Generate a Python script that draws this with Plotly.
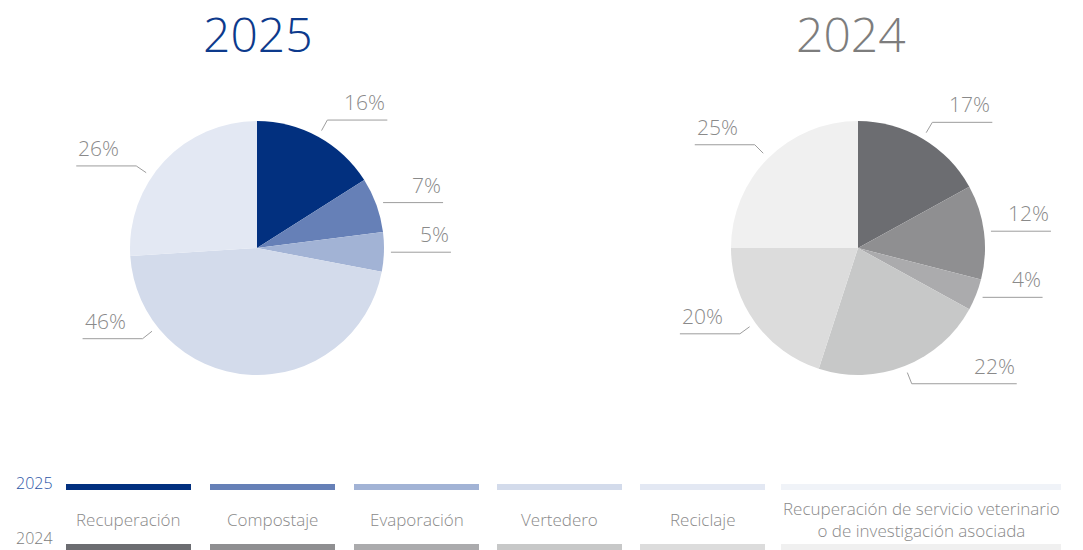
import math
import plotly.graph_objects as go

W, H = 1083, 550

# ---------------- data ----------------
categories = ["Recuperación", "Compostaje", "Evaporación", "Vertedero", "Reciclaje",
              "Recuperación de servicio veterinario<br>o de investigación asociada"]
years = ["2025", "2024"]
values_2025 = [16, 7, 5, 46, 26, 0]
values_2024 = [17, 12, 4, 22, 20, 25]

# ---------------- style ----------------
colors_2025 = ["#02307f", "#6680b7", "#a2b3d5", "#d3dbeb", "#e3e8f3", "#f0f3f8"]
colors_2024 = ["#6c6d71", "#8f8f91", "#ababad", "#c7c8c8", "#dcdcdc", "#f0f0f0"]
title_colors = ["#0d3a8c", "#7d7d7d"]
legend_year_colors = ["#2c55a6", "#7d7d7d"]
FONT = "Open Sans"
LABEL_COLOR = "#8a8a8a"
LINE_COLOR = "#9d9d9d"

pie_centers = [(257, 248), (858, 248)]
title_centers = [258, 851]
R = 127
label_angle_shift = {("2025", 3): 48, ("2025", 4): -9}
label_line_len = {("2024", 3): 105}


def px(x):
    return x / W


def py(y):
    return 1 - y / H


fig = go.Figure()
shapes = []
annotations = []

for yi, (year, vals, cols, (cx, cy)) in enumerate(
        zip(years, [values_2025, values_2024], [colors_2025, colors_2024], pie_centers)):
    fig.add_trace(go.Pie(
        labels=[c.replace("<br>", " ") for c in categories],
        values=vals,
        marker=dict(colors=cols, line=dict(width=0)),
        sort=False,
        direction="clockwise",
        rotation=0,
        textinfo="none",
        hoverinfo="label+percent",
        showlegend=False,
        domain=dict(x=[px(cx - R), px(cx + R)], y=[py(cy + R), py(cy - R)]),
    ))
    # title
    annotations.append(dict(
        x=px(title_centers[yi]), y=1, xref="paper", yref="paper", text=year, showarrow=False,
        xanchor="center", yanchor="top", borderpad=0,
        font=dict(family=FONT, size=48, color=title_colors[yi], weight=300)))

    total = sum(vals)
    cum = 0
    for i, v in enumerate(vals):
        if v == 0:
            continue
        mid = (cum + v / 2) / total * 360 + label_angle_shift.get((year, i), 0)
        cum += v
        t = math.radians(mid)
        s, c = math.sin(t), math.cos(t)
        sx, sy = cx + (R + 7) * s, cy - (R + 7) * c
        if abs(c) > 0.5:
            ex, ey = cx + (R + 19) * s, cy - (R + 19) * c
        else:
            ex, ey = sx, sy
        right = s >= 0
        L = label_line_len.get((year, i), 60)
        endx = ex + L if right else ex - L
        shapes.append(dict(type="path", xref="paper", yref="paper",
                           path=f"M {px(sx)},{py(sy)} L {px(ex)},{py(ey)} L {px(endx)},{py(ey)}",
                           line=dict(color=LINE_COLOR, width=1)))
        annotations.append(dict(
            x=px(endx), y=py(ey - 2), xref="paper", yref="paper",
            text=f"{round(v / total * 100)}%", showarrow=False,
            xanchor="right" if right else "left", yanchor="bottom",
            font=dict(family=FONT, size=21, color=LABEL_COLOR, weight=300)))

# ---------------- custom legend ----------------
col_starts = [66, 210, 354, 497, 640, 781]
col_widths = [125, 125, 125, 125, 125, 280]
bar_rows = [(484, 490), (544, 550)]
for ci, (x0, w) in enumerate(zip(col_starts, col_widths)):
    for ri, cols in enumerate([colors_2025, colors_2024]):
        y0, y1 = bar_rows[ri]
        shapes.append(dict(type="rect", xref="paper", yref="paper",
                           x0=px(x0), x1=px(x0 + w), y0=py(y1), y1=py(y0),
                           fillcolor=cols[ci], line=dict(width=0)))
    annotations.append(dict(
        x=px(x0 + w / 2), y=py(519), xref="paper", yref="paper", text=categories[ci],
        showarrow=False, xanchor="center", yanchor="middle", align="center",
        font=dict(family=FONT, size=17, color=LABEL_COLOR, weight=300)))

for ri, year in enumerate(years):
    annotations.append(dict(
        x=px(55), y=py([483, 538][ri]), xref="paper", yref="paper", text=year,
        showarrow=False, xanchor="right", yanchor="middle",
        font=dict(family=FONT, size=16, color=legend_year_colors[ri], weight=300)))

fig.update_layout(
    width=W, height=H,
    margin=dict(l=0, r=0, t=0, b=0),
    paper_bgcolor="white", plot_bgcolor="white",
    shapes=shapes, annotations=annotations,
    font=dict(family=FONT),
)

fig.write_html("out.html", config={"displayModeBar": False},
               post_script="document.body.style.margin='0';document.body.style.overflow='hidden';")
